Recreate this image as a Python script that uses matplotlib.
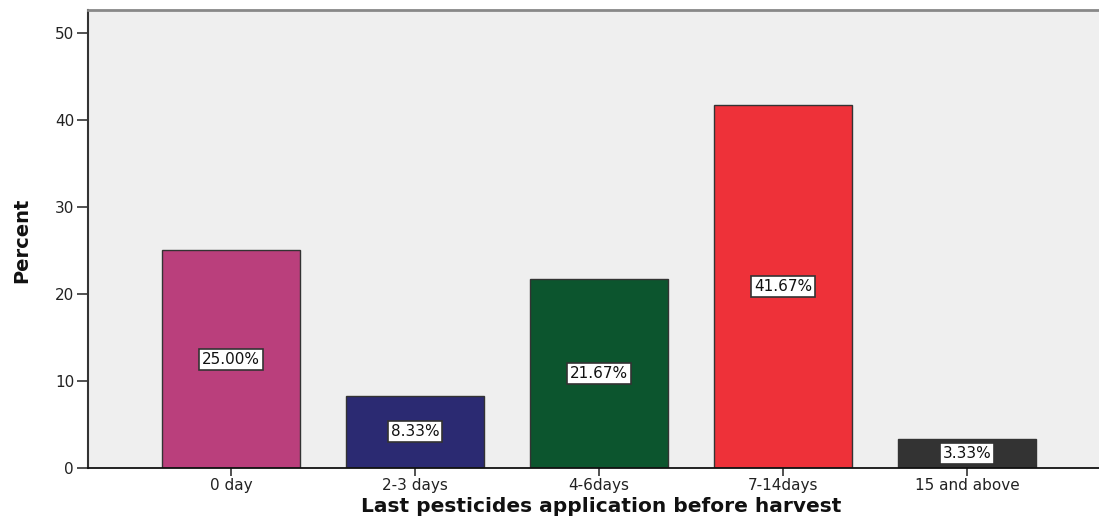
import matplotlib
matplotlib.use("Agg")
import matplotlib.pyplot as plt

# Share of respondents by time between last pesticide application and harvest
categories = ["0 day", "2-3 days", "4-6days", "7-14days", "15 and above"]
percents = [25.00, 8.33, 21.67, 41.67, 3.33]
bar_colors = ["#BA3F7C", "#2B2A72", "#0C552E", "#EE3139", "#333333"]
y_ticks = [0, 10, 20, 30, 40, 50]

plt.rcParams["font.family"] = ["DejaVu Sans"]

fig = plt.figure(figsize=(10.99, 5.19), dpi=100)
ax = fig.add_axes([88 / 1099, 1 - 468 / 519, 1 - 88 / 1099, (468 - 10) / 519])
ax.set_facecolor("#EFEFEF")

x = list(range(len(categories)))
bars = ax.bar(x, percents, width=0.75, color=bar_colors,
              edgecolor="#333333", linewidth=1.0, zorder=2)

for bar, val in zip(bars, percents):
    ax.text(bar.get_x() + bar.get_width() / 2, val / 2, f"{val:.2f}%",
            ha="center", va="center", fontsize=11, color="#111111", zorder=3,
            bbox=dict(boxstyle="square,pad=0.2", facecolor="white",
                      edgecolor="#333333", linewidth=1.2))

ax.set_xlim(-0.777, 4.717)
ax.set_ylim(0, 52.64)
ax.set_xticks(x)
ax.set_xticklabels(categories, fontsize=11, color="#222222")
ax.set_yticks(y_ticks)
ax.set_yticklabels([str(t) for t in y_ticks], fontsize=11, color="#222222")

ax.tick_params(axis="y", direction="out", length=8, width=1.2, color="#333333", pad=2)
ax.tick_params(axis="x", direction="out", length=6, width=1.2, color="#333333", pad=1)

ax.spines["right"].set_visible(False)
ax.spines["top"].set_color("#888888")
ax.spines["top"].set_linewidth(2.0)
ax.spines["left"].set_color("#333333")
ax.spines["left"].set_linewidth(1.5)
ax.spines["bottom"].set_color("#111111")
ax.spines["bottom"].set_linewidth(1.3)

ax.set_ylabel("Percent", fontsize=14, fontweight="bold", color="#111111")
ax.yaxis.set_label_coords(-0.056, 0.498)
ax.set_xlabel("Last pesticides application before harvest", fontsize=14.5,
              fontweight="bold", color="#111111")
ax.xaxis.set_label_coords(0.508, -0.064)

fig.savefig("out.png", dpi=100)
